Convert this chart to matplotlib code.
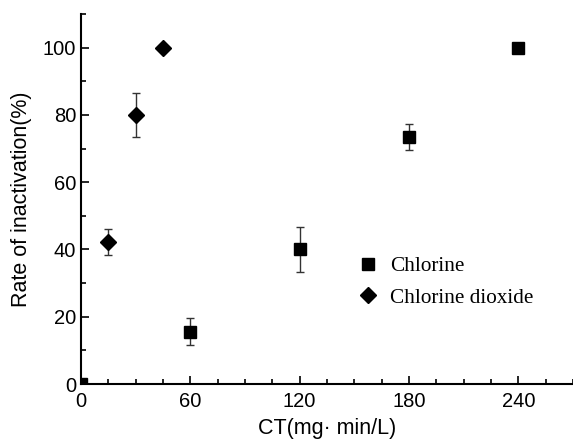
import matplotlib
matplotlib.use("Agg")
import matplotlib.pyplot as plt

# Data
cl_x = [0, 60, 120, 180, 240]
cl_y = [0, 15.5, 40, 73.5, 100]
cl_err = [0, 4, 6.6, 3.9, 0]

cd_x = [15, 30, 45]
cd_y = [42.3, 80, 100]
cd_err = [3.8, 6.6, 0]

xticks = [0, 60, 120, 180, 240]
yticks = [0, 20, 40, 60, 80, 100]

fig = plt.figure(figsize=(5.73, 4.45), dpi=100)
ax = fig.add_axes([0.1414, 0.137, 0.8586, 0.8315])

ax.errorbar(cl_x, cl_y, yerr=cl_err, fmt='s', color='black', ms=8.5,
            ecolor='#333333', elinewidth=1, capsize=3, capthick=1, label='Chlorine')
ax.errorbar(cd_x, cd_y, yerr=cd_err, fmt='D', color='black', ms=8,
            ecolor='#333333', elinewidth=1, capsize=3, capthick=1, label='Chlorine dioxide')

ax.set_xlim(0, 270)
ax.set_ylim(0, 110)
ax.set_xticks(xticks)
ax.set_yticks(yticks)
ax.set_xticks(range(0, 271, 15), minor=True)
ax.set_yticks(range(0, 111, 10), minor=True)
ax.tick_params(which='both', direction='in', width=1.2, labelsize=14.5)
ax.tick_params(which='major', length=6)
ax.tick_params(which='minor', length=3.5)
ax.tick_params(axis='x', pad=6)
for lab in ax.get_xticklabels() + ax.get_yticklabels():
    lab.set_fontfamily('Liberation Sans')
ax.spines['top'].set_visible(False)
ax.spines['right'].set_visible(False)
ax.spines['left'].set_linewidth(1.5)
ax.spines['bottom'].set_linewidth(1.5)

ax.set_xlabel('CT(mg· min/L)', fontsize=15.5, family='Liberation Sans', labelpad=5)
ax.set_ylabel('Rate of inactivation(%)', fontsize=15.5, family='Liberation Sans', labelpad=8)

handles, labels = ax.get_legend_handles_labels()
handles = [h[0] for h in handles]
ax.legend(handles, labels, loc='center left', bbox_to_anchor=(0.518, 0.276),
          frameon=False, prop={'family': 'Liberation Serif', 'size': 15.3},
          handletextpad=0.45, handlelength=1.2, labelspacing=0.55)

fig.savefig('out.png', dpi=100)
